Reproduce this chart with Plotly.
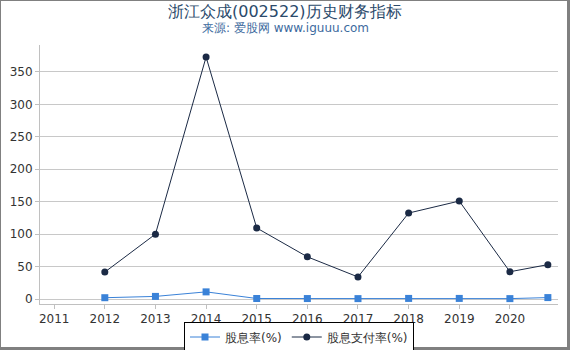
import plotly.graph_objects as go

years = [2012, 2013, 2014, 2015, 2016, 2017, 2018, 2019, 2020, 2020.75]
div_yield = [2.0, 4.0, 11.0, 0.8, 0.7, 0.6, 0.9, 0.9, 0.6, 2.2]
payout = [41.5, 100.0, 373.0, 109.5, 65.0, 34.0, 132.5, 151.0, 42.0, 53.0]
tick_vals = [2011, 2012, 2013, 2014, 2015, 2016, 2017, 2018, 2019, 2020]
tick_text = [str(v) for v in tick_vals]
title_text = "浙江众成(002522)历史财务指标"
subtitle_text = "来源: 爱股网 www.iguuu.com"

fig = go.Figure()
fig.add_trace(go.Scatter(
    x=years, y=div_yield, name="股息率(%)", mode="lines+markers",
    line=dict(color="#3a82d8", width=1),
    marker=dict(symbol="square", size=7, color="#3a82d8"),
))
fig.add_trace(go.Scatter(
    x=years, y=payout, name="股息支付率(%)", mode="lines+markers",
    line=dict(color="#1b2a45", width=1),
    marker=dict(symbol="circle", size=7, color="#1b2a45"),
))

W, H = 570, 350
L, R, T, B = 40, 12, 45, 46
pw, ph = W - L - R, H - T - B

def px_x(p):
    return (p - L) / pw

def px_y(p):
    return (H - B - p) / ph

shapes = []
for x0, x1, y0, y1 in [(0, 1, 0, 350), (567, 570, 0, 350), (0, 570, 0, 1), (0, 570, 347, 350)]:
    shapes.append(dict(type="rect", xref="paper", yref="paper",
                       x0=px_x(x0), x1=px_x(x1), y0=px_y(y1), y1=px_y(y0),
                       fillcolor="#808080", line=dict(width=0), layer="above"))

annotations = [
    dict(text=title_text, xref="paper", yref="paper", x=px_x(285), y=px_y(11),
         xanchor="center", yanchor="middle", showarrow=False,
         font=dict(size=16, color="#2b4a6b")),
    dict(text=subtitle_text, xref="paper", yref="paper", x=px_x(285), y=px_y(28),
         xanchor="center", yanchor="middle", showarrow=False,
         font=dict(size=12, color="#3d6a9e")),
]

fig.update_layout(
    width=W, height=H,
    margin=dict(l=L, r=R, t=T, b=B, autoexpand=False),
    paper_bgcolor="white", plot_bgcolor="white",
    font=dict(family="DejaVu Sans", size=12, color="#333333"),
    xaxis=dict(
        range=[2010.72, 2020.95], tickvals=tick_vals, ticktext=tick_text,
        showgrid=False, showline=True, linecolor="#c0c0c0", linewidth=1,
        ticks="outside", ticklen=4, tickcolor="#c0c0c0", zeroline=False,
        tickfont=dict(size=12, color="#333333"),
    ),
    yaxis=dict(
        range=[-7.7, 391.6], tickvals=[0, 50, 100, 150, 200, 250, 300, 350],
        showgrid=True, gridcolor="#c8c8c8", gridwidth=1,
        showline=True, linecolor="#c0c0c0", linewidth=1,
        ticks="outside", ticklen=4, tickcolor="#c0c0c0", zeroline=False,
        tickfont=dict(size=12, color="#333333"),
    ),
    legend=dict(
        orientation="h", x=0.5, xanchor="center",
        yref="container", y=(H - 337) / H, yanchor="middle",
        bordercolor="#000000", borderwidth=1, font=dict(size=12, color="#333333"),
    ),
    shapes=shapes,
    annotations=annotations,
)

fig.write_html("out.html")
